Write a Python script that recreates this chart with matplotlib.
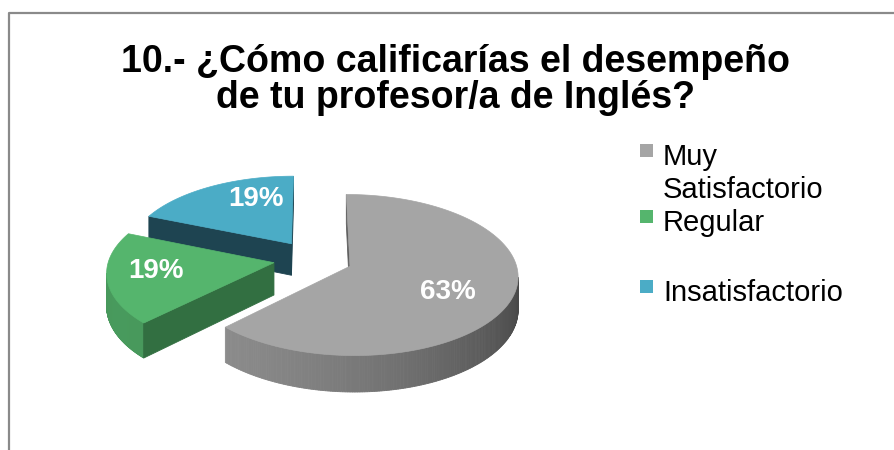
import numpy as np
import matplotlib
matplotlib.use("Agg")
import matplotlib.pyplot as plt
from matplotlib.patches import Polygon, Rectangle
from matplotlib.lines import Line2D
import matplotlib.colors as mcolors

# ---------------- data ----------------
title = "10.- ¿Cómo calificarías el desempeño\nde tu profesor/a de Inglés?"
categories = ["Muy\nSatisfactorio", "Regular", "Insatisfactorio"]
values = [62.5, 18.75, 18.75]

# ---------------- style ----------------
top_colors = ["#A5A5A5", "#55B56D", "#4BACC6"]
face_colors = ["#5E5E5E", "#326F41", "#1E4451"]
W, H = 895, 450
cx_px, cy_px = 313, 259      # pie centre on screen (pixels from top-left)
R_px = 165                   # radius in pixels
tilt = 78 / 165              # vertical squash of the top face
persp = 0.108                # perspective strength
depth = 0.195                # wall height (radius units)
explode = 0.24
label_r = [0.64, 0.71, 0.68]
label_da = [-7.0, -2.5, -13.0]

fig = plt.figure(figsize=(W / 100, H / 100), dpi=100)
ax = fig.add_axes([0, 0, 1, 1])

wedges, texts, autotexts = ax.pie(
    values, colors=top_colors, startangle=90, counterclock=False,
    explode=[explode] * len(values),
    autopct=lambda p: f"{int(p + 0.5)}%",
    textprops=dict(color="white", fontsize=20, fontweight="bold",
                   family="Liberation Sans"),
    wedgeprops=dict(linewidth=0))
for w in wedges:
    w.set_visible(False)

ax.set_xlim(-cx_px / R_px, (W - cx_px) / R_px)
ax.set_ylim((cy_px - H) / R_px, cy_px / R_px)
ax.set_aspect("auto")
ax.axis("off")


def proj(x, y, z=0.0):
    s = 1.0 / (1.0 + persp * y)
    return (x * s, (tilt * y + z) * s)


def shade(color, f):
    r, g, b = mcolors.to_rgb(color)
    return (min(r * f, 1), min(g * f, 1), min(b * f, 1))


def signed_area(pts):
    a = 0.0
    for (x1, y1), (x2, y2) in zip(pts, pts[1:] + pts[:1]):
        a += x1 * y2 - x2 * y1
    return 0.5 * a


order = sorted(range(len(wedges)), key=lambda i: -wedges[i].center[1])
for rank, i in enumerate(order):
    w = wedges[i]
    cx, cy = w.center
    t1, t2 = np.radians(w.theta1), np.radians(w.theta2)
    base = 3 * rank + 1
    ts = np.linspace(t1, t2, 300)
    # outer wall strips (back-face culled)
    for a, b in zip(ts[:-1], ts[1:]):
        pa, pb = (cx + np.cos(a), cy + np.sin(a)), (cx + np.cos(b), cy + np.sin(b))
        poly = [proj(*pa), proj(*pb), proj(*pb, -depth), proj(*pa, -depth)]
        if signed_area(poly) >= 0:
            continue
        m = 0.5 * (a + b)
        f = 0.62 + 0.23 * np.cos(m - np.radians(210))
        col = shade(top_colors[i], f)
        ax.add_patch(Polygon(poly, closed=True, facecolor=col, edgecolor=col,
                             linewidth=0.6, zorder=base))
    # radial cut faces
    for phi, sign in ((t1, -1), (t2, 1)):
        rim = (cx + np.cos(phi), cy + np.sin(phi))
        poly = [proj(cx, cy), proj(*rim), proj(*rim, -depth), proj(cx, cy, -depth)]
        if sign * signed_area(poly) > 1e-9:
            ax.add_patch(Polygon(poly, closed=True, facecolor=face_colors[i],
                                 edgecolor=face_colors[i], linewidth=0.6,
                                 zorder=base + 0.5))
    # top face
    top = [proj(cx, cy)] + [proj(cx + np.cos(t), cy + np.sin(t)) for t in ts]
    ax.add_patch(Polygon(top, closed=True, facecolor=top_colors[i],
                         edgecolor=top_colors[i], linewidth=0.5, zorder=base + 1))
    # percentage label
    mid = np.radians(0.5 * (w.theta1 + w.theta2) + label_da[i])
    autotexts[i].set_position(proj(cx + label_r[i] * np.cos(mid),
                                   cy + label_r[i] * np.sin(mid)))
    autotexts[i].set_zorder(50)

# ---------------- title ----------------
fig.text(456 / W, 1 - 44 / H, title, ha="center", va="top",
         fontsize=27, fontweight="bold", family="Liberation Sans",
         linespacing=0.99)

# ---------------- legend ----------------
leg_tops = [143, 209, 279]
for i, lab in enumerate(categories):
    sq_top = leg_tops[i] + 1
    fig.patches.append(Rectangle((640 / W, 1 - (sq_top + 13) / H), 13 / W, 13 / H,
                                 transform=fig.transFigure, facecolor=top_colors[i],
                                 edgecolor="none"))
    fig.text(663 / W, 1 - leg_tops[i] / H, lab, ha="left", va="top",
             fontsize=21, family="Liberation Sans", linespacing=1.22,
             color="black")

# ---------------- frame ----------------
fig.lines.append(Line2D([8.5 / W, 8.5 / W, 1.01], [-0.01, 1 - 12.5 / H, 1 - 12.5 / H],
                        transform=fig.transFigure, color="#8A8A8A", linewidth=1.6))

fig.savefig("out.png", dpi=100, facecolor="white")
